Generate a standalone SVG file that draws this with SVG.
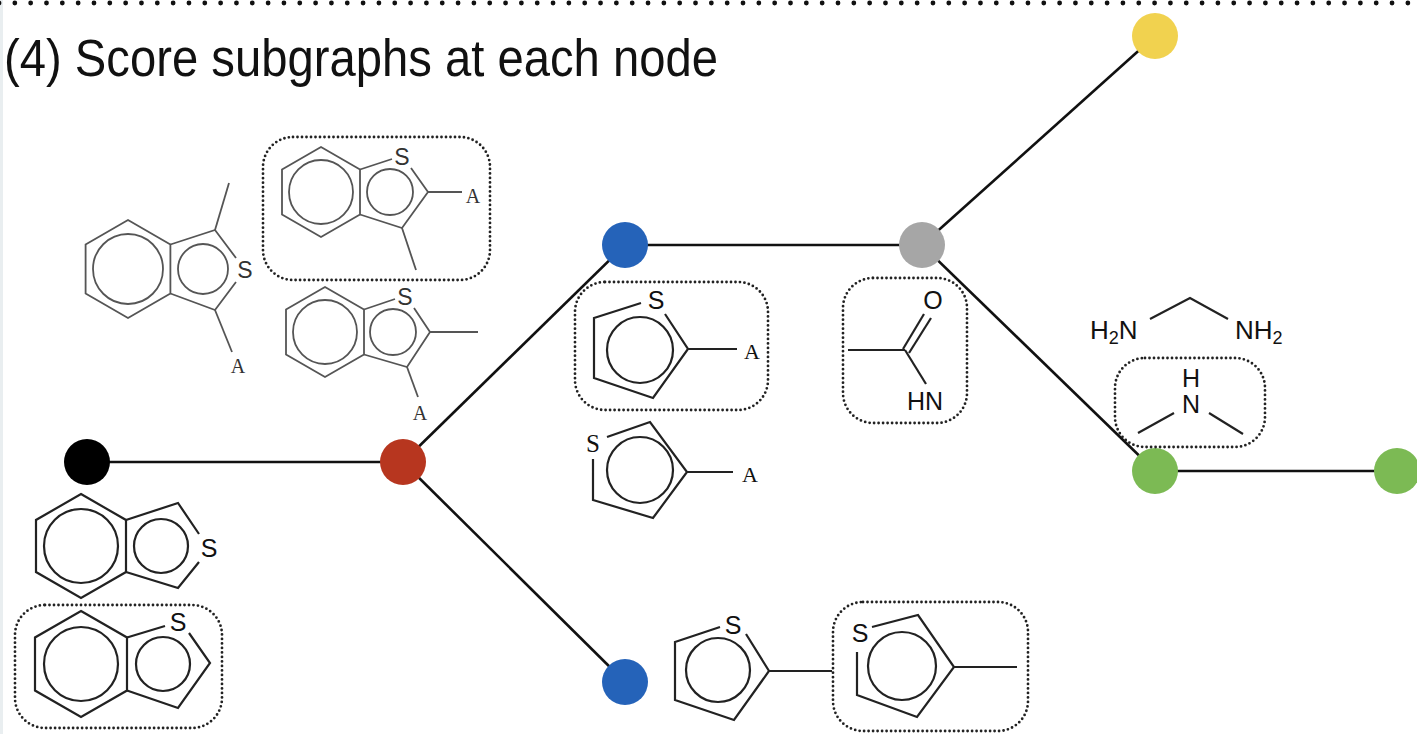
<svg xmlns="http://www.w3.org/2000/svg" width="1417" height="734" viewBox="0 0 1417 734">
<style>
.bg{fill:#fff}
.edge{stroke:#111;stroke-width:2.6;fill:none}
.m{stroke:#222;stroke-width:2.2;fill:none;stroke-linejoin:miter}
.mg{stroke:#555;stroke-width:1.8;fill:none}
.box{fill:none;stroke:#222;stroke-width:2.8;stroke-dasharray:0 4.5;stroke-linecap:round}
.sans{font-family:"Liberation Sans",Arial,Helvetica,sans-serif;fill:#111}
.serif{font-family:"Liberation Serif","Times New Roman",serif;fill:#111}
.lbl{font-size:25px;text-anchor:middle}
.lblg{font-size:23px;text-anchor:middle;fill:#333}
.a{font-size:22px;text-anchor:middle}
.ag{font-size:20px;text-anchor:middle;fill:#333}
</style>
<rect class="bg" x="0" y="0" width="1417" height="734"/>
<rect x="0" y="0" width="3" height="734" fill="#e9eef0"/>
<line x1="-1" y1="3" x2="1417" y2="3" stroke="#111" stroke-width="4.8" stroke-linecap="round" stroke-dasharray="0 15.83"/>
<text class="sans" x="4" y="76" font-size="51" textLength="714" lengthAdjust="spacingAndGlyphs">(4) Score subgraphs at each node</text>

<g id="connectors">
<line class="edge" x1="87" y1="462" x2="403" y2="462"/>
<line class="edge" x1="403" y1="462" x2="625" y2="245"/>
<line class="edge" x1="403" y1="462" x2="625" y2="682"/>
<line class="edge" x1="625" y1="245" x2="922" y2="245"/>
<line class="edge" x1="922" y1="245" x2="1155" y2="36"/>
<line class="edge" x1="922" y1="245" x2="1155" y2="471"/>
<line class="edge" x1="1155" y1="471" x2="1397" y2="471"/>
</g>

<g id="node-black"><circle cx="87" cy="462" r="23" fill="#000"/></g>
<g id="node-red"><circle cx="403" cy="462" r="23" fill="#B7361F"/></g>
<g id="node-blue-top"><circle cx="625" cy="245" r="23" fill="#2563B9"/></g>
<g id="node-blue-bottom"><circle cx="625" cy="682" r="23" fill="#2563B9"/></g>
<g id="node-gray"><circle cx="922" cy="245" r="23" fill="#A6A6A6"/></g>
<g id="node-yellow"><circle cx="1155" cy="36" r="23" fill="#F1D24F"/></g>
<g id="node-green-left"><circle cx="1155" cy="471" r="23" fill="#7CBA54"/></g>
<g id="node-green-right"><circle cx="1397" cy="471" r="23" fill="#7CBA54"/></g>

<!-- red node subgraphs -->
<g id="mol-red-1">
<polygon class="mg" points="128,220 170.4,244.5 170.4,293.5 128,318 85.6,293.5 85.6,244.5"/>
<circle class="mg" cx="128" cy="269" r="35"/>
<polyline class="mg" points="170.4,244.5 215,230 236,258"/>
<polyline class="mg" points="236,282 215,310 170.4,293.5"/>
<circle class="mg" cx="203" cy="269" r="25"/>
<line class="mg" x1="215" y1="230" x2="229" y2="183"/>
<line class="mg" x1="215" y1="310" x2="232" y2="352"/>
<text class="sans lblg" x="245" y="278">S</text>
<text class="serif ag" x="238" y="373">A</text>
</g>
<g id="mol-red-2">
<rect class="box" x="263" y="137" width="227" height="143" rx="30"/>
<polygon class="mg" points="321,147 360,169.5 360,214.5 321,237 282,214.5 282,169.5"/>
<circle class="mg" cx="321" cy="192" r="32"/>
<line class="mg" x1="360" y1="169.5" x2="392" y2="159"/>
<polyline class="mg" points="411,168 428,192 402,228 360,214.5"/>
<circle class="mg" cx="390" cy="192" r="23"/>
<line class="mg" x1="428" y1="192" x2="462" y2="192"/>
<line class="mg" x1="402" y1="228" x2="416" y2="270"/>
<text class="sans lblg" x="402" y="165">S</text>
<text class="serif ag" x="473" y="203">A</text>
</g>
<g id="mol-red-3">
<polygon class="mg" points="325,287 364,309.5 364,354.5 325,377 286,354.5 286,309.5"/>
<circle class="mg" cx="325" cy="332" r="32"/>
<line class="mg" x1="364" y1="309.5" x2="395" y2="299"/>
<polyline class="mg" points="414,308 430,332 407,367 364,354.5"/>
<circle class="mg" cx="393" cy="332" r="23"/>
<line class="mg" x1="430" y1="332" x2="478" y2="332"/>
<line class="mg" x1="407" y1="367" x2="418" y2="397"/>
<text class="sans lblg" x="405" y="305">S</text>
<text class="serif ag" x="420" y="420">A</text>
</g>

<!-- black node subgraphs -->
<g id="mol-black-1">
<polygon class="m" points="81,494 126,520 126,572 81,598 36,572 36,520"/>
<circle class="m" cx="81" cy="546" r="37"/>
<polyline class="m" points="126,520 178,503 199,534"/>
<polyline class="m" points="199,562 178,588 126,572"/>
<circle class="m" cx="161" cy="546" r="27"/>
<text class="sans lbl" x="209" y="557">S</text>
</g>
<g id="mol-black-2">
<rect class="box" x="15" y="605" width="207" height="123" rx="30"/>
<polygon class="m" points="81,611 127,637.5 127,690.5 81,717 35,690.5 35,637.5"/>
<circle class="m" cx="81" cy="664" r="37"/>
<line class="m" x1="127" y1="637.5" x2="165" y2="626"/>
<polyline class="m" points="189,633 210,663 178,708 127,690.5"/>
<circle class="m" cx="163" cy="664" r="27"/>
<text class="sans lbl" x="178" y="631">S</text>
</g>

<!-- blue top node subgraphs -->
<g id="mol-blue-1">
<rect class="box" x="575" y="282" width="193" height="128" rx="30"/>
<polyline class="m" points="641,303 594,318 594,378 653,398 688,349 665,314"/>
<circle class="m" cx="640" cy="350" r="33"/>
<line class="m" x1="688" y1="349" x2="737" y2="349"/>
<text class="sans lbl" x="656" y="309">S</text>
<text class="serif a" x="752" y="359">A</text>
</g>
<g id="mol-blue-2">
<polyline class="m" points="607,437 650,422 687,472 653,518 593,500 593,459"/>
<circle class="m" cx="640" cy="470" r="33"/>
<line class="m" x1="687" y1="472" x2="733" y2="472"/>
<text class="serif lbl" x="593" y="452">S</text>
<text class="serif a" x="750" y="482">A</text>
</g>

<!-- gray node subgraph -->
<g id="mol-gray">
<rect class="box" x="843" y="278" width="124" height="145" rx="30"/>
<line class="m" x1="848" y1="350" x2="905" y2="350"/>
<line class="m" x1="903" y1="349" x2="924" y2="314"/>
<line class="m" x1="909" y1="353" x2="931" y2="318"/>
<line class="m" x1="905" y1="350" x2="926" y2="384"/>
<text class="sans lbl" x="933" y="309">O</text>
<text class="sans lbl" x="925" y="410">HN</text>
</g>

<!-- green node subgraphs -->
<g id="mol-green-1">
<polyline class="m" points="1150,319 1190,298 1228,319"/>
<text class="sans" x="1090" y="339" font-size="26">H<tspan font-size="18" dy="5">2</tspan><tspan dy="-5">N</tspan></text>
<text class="sans" x="1235" y="339" font-size="26">NH<tspan font-size="18" dy="5">2</tspan></text>
</g>
<g id="mol-green-2">
<rect class="box" x="1115" y="358" width="150" height="89" rx="30"/>
<line class="m" x1="1174" y1="413" x2="1138" y2="433"/>
<line class="m" x1="1209" y1="413" x2="1243" y2="434"/>
<text class="sans lbl" x="1191" y="387">H</text>
<text class="sans lbl" x="1191" y="413">N</text>
</g>

<!-- blue bottom node subgraphs -->
<g id="mol-bottom">
<polyline class="m" points="720,627 675,642 675,700 734,720 769,671 746,634"/>
<circle class="m" cx="718" cy="670" r="32"/>
<line class="m" x1="769" y1="671" x2="832" y2="671"/>
<text class="sans lbl" x="733" y="634">S</text>
<rect class="box" x="833" y="602" width="195" height="129" rx="30"/>
<polyline class="m" points="872,627 918,615 954,667 917,717 857,695 857,652"/>
<circle class="m" cx="902" cy="666" r="34"/>
<line class="m" x1="954" y1="667" x2="1017" y2="667"/>
<text class="sans lbl" x="860" y="642">S</text>
</g>
</svg>
